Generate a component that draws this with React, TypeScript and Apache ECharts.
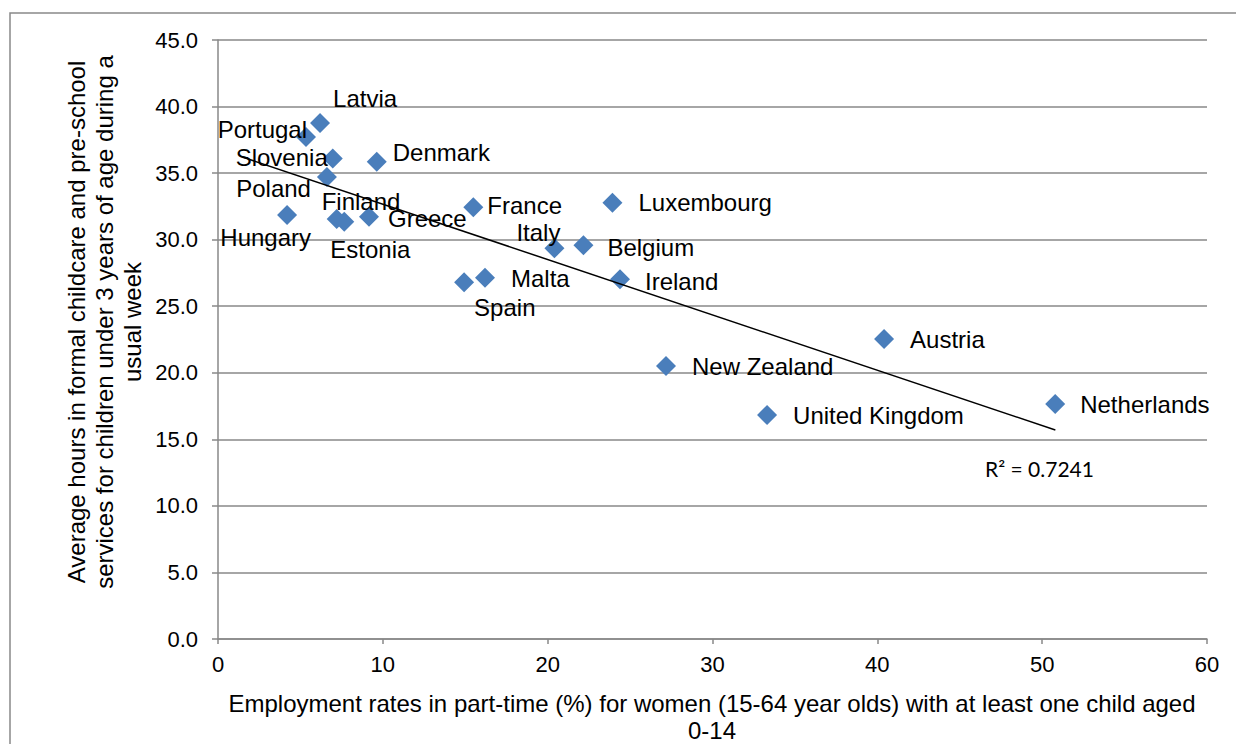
import React, { useEffect, useRef } from "react";
import * as echarts from "echarts";

const countries = [
  "Latvia", "Portugal", "Slovenia", "Poland", "Hungary", "Finland", "Estonia",
  "Greece", "Denmark", "France", "Italy", "Belgium", "Luxembourg", "Ireland",
  "Spain", "Malta", "Austria", "New Zealand", "United Kingdom", "Netherlands",
];
const partTimeRates = [
  6.19, 5.34, 6.96, 6.61, 4.19, 7.2, 7.66, 9.16, 9.63, 15.49, 20.41, 22.17,
  23.93, 24.39, 14.93, 16.2, 40.41, 27.18, 33.31, 50.79,
];
const childcareHours = [
  38.77, 37.72, 36.09, 34.71, 31.85, 31.56, 31.35, 31.73, 35.86, 32.43, 29.35,
  29.58, 32.78, 27.02, 26.8, 27.14, 22.54, 20.51, 16.83, 17.66,
];
const trendX = [1.5, 50.8];
const trendY = [36.2, 15.7];
const rSquared = "R² = 0.7241";
const yTicks = [0, 5, 10, 15, 20, 25, 30, 35, 40, 45];
const xTicks = [0, 10, 20, 30, 40, 50, 60];

// label placement (style): [dx, dy, align]
const labelPlacement: Record<string, [number, number, string]> = {
  Latvia: [13, -24, "left"],
  Portugal: [1, -7, "right"],
  Slovenia: [-5, -1, "right"],
  Poland: [-16, 12, "right"],
  Hungary: [24, 22, "right"],
  Finland: [-15, -17, "left"],
  Estonia: [-14, 28, "left"],
  Greece: [19, 2, "left"],
  Denmark: [16, -9, "left"],
  France: [14, -2, "left"],
  Italy: [6, -16, "right"],
  Belgium: [24, 2, "left"],
  Luxembourg: [26, 0, "left"],
  Ireland: [25, 2, "left"],
  Spain: [10, 25, "left"],
  Malta: [26, 1, "left"],
  Austria: [26, 1, "left"],
  "New Zealand": [26, 1, "left"],
  "United Kingdom": [26, 1, "left"],
  Netherlands: [25, 1, "left"],
};

const FONT = "'Liberation Sans', Arial, sans-serif";
const GRAY = "#898989";

export default function App() {
  const ref = useRef<HTMLDivElement>(null);
  useEffect(() => {
    if (!ref.current) return;
    const chart = echarts.init(ref.current, null, { renderer: "svg" });
    const points = countries.map((c, i) => {
      const p = labelPlacement[c];
      return {
        name: c,
        value: [partTimeRates[i], childcareHours[i]],
        label: {
          show: true,
          position: "inside",
          align: p[2],
          verticalAlign: "middle",
          offset: [p[0], p[1]],
          formatter: c,
          color: "#000",
          fontSize: 24,
          fontFamily: FONT,
        },
      };
    });
    chart.setOption({
      animation: false,
      backgroundColor: "#ffffff",
      grid: { left: 218, right: 29, top: 40, bottom: 105, containLabel: false },
      xAxis: {
        type: "value",
        min: xTicks[0],
        max: xTicks[xTicks.length - 1],
        interval: 10,
        splitLine: { show: false },
        axisLine: { lineStyle: { color: GRAY, width: 1.5 } },
        axisTick: { show: true, length: 5, lineStyle: { color: GRAY, width: 1.5 } },
        axisLabel: { color: "#000", fontSize: 22, fontFamily: FONT, margin: 14 },
      },
      yAxis: {
        type: "value",
        min: yTicks[0],
        max: yTicks[yTicks.length - 1],
        interval: 5,
        splitLine: { show: true, lineStyle: { color: GRAY, width: 1.5 } },
        axisLine: { show: true, lineStyle: { color: GRAY, width: 1.5 } },
        axisTick: { show: true, length: 6, lineStyle: { color: GRAY, width: 1.5 } },
        axisLabel: {
          color: "#000",
          fontSize: 22,
          fontFamily: FONT,
          margin: 20,
          formatter: (v: number) => v.toFixed(1),
        },
      },
      series: [
        {
          type: "line",
          data: trendX.map((x, i) => [x, trendY[i]]),
          showSymbol: false,
          symbol: "none",
          silent: true,
          lineStyle: { color: "#000", width: 1.5 },
          z: 3,
        },
        {
          type: "scatter",
          data: points,
          symbol: "diamond",
          symbolSize: 20,
          itemStyle: { color: "#4A7EBB", opacity: 1 },
          z: 2,
        },
      ],
      graphic: [
        {
          type: "rect",
          shape: { x: 10, y: 13, width: 1240, height: 760 },
          style: { fill: "none", stroke: GRAY, lineWidth: 1.5 },
          silent: true,
        },
        {
          type: "text",
          x: 104,
          y: 322,
          rotation: Math.PI / 2,
          style: {
            text:
              "Average hours in formal childcare and pre-school\nservices for children under 3 years of age during a\nusual week",
            font: `24px ${FONT}`,
            fill: "#000",
            align: "center",
            verticalAlign: "middle",
            lineHeight: 28,
          },
        },
        {
          type: "text",
          x: 712,
          y: 717,
          style: {
            text:
              "Employment rates in part-time (%) for women (15-64 year olds) with at least one child aged\n0-14",
            font: `24px ${FONT}`,
            fill: "#000",
            align: "center",
            verticalAlign: "middle",
            lineHeight: 27,
          },
        },
        {
          type: "text",
          x: 985,
          y: 468,
          style: {
            text: rSquared,
            font: "21px Lato, 'Open Sans', sans-serif",
            fill: "#000",
            align: "left",
            verticalAlign: "middle",
          },
        },
      ],
    });
    return () => chart.dispose();
  }, []);
  return (
    <div
      ref={ref}
      style={{ position: "absolute", left: 0, top: 0, width: 1236, height: 744 }}
    />
  );
}
